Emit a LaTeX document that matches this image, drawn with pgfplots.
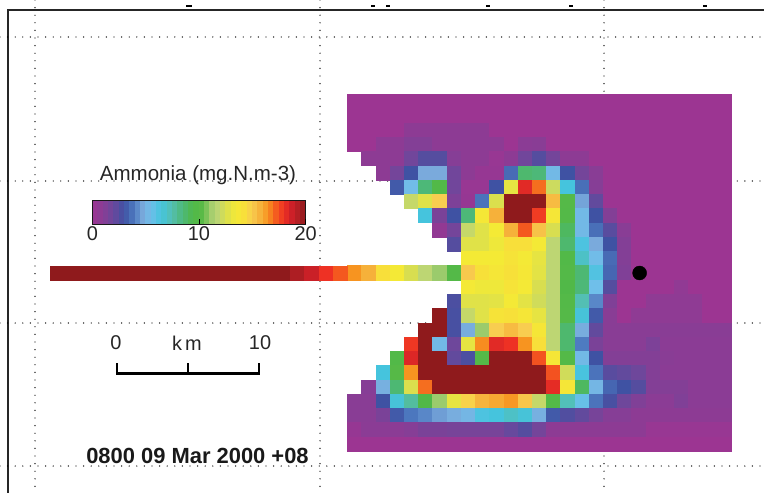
\documentclass[border=0pt]{standalone}
\usepackage{fontspec}
\setmainfont{Liberation Sans}
\usepackage{pgfplots}
\usepackage{pgfplotstable}
\pgfplotsset{compat=1.18}
\pgfplotsset{colormap={ammonia}{
rgb255(0pt)=(156,53,146) rgb255(10pt)=(137,61,149) rgb255(20pt)=(107,72,156) rgb255(30pt)=(63,82,163)
rgb255(40pt)=(78,123,193) rgb255(48pt)=(122,170,220) rgb255(55pt)=(111,191,234) rgb255(65pt)=(69,196,221)
rgb255(75pt)=(85,191,176) rgb255(85pt)=(77,184,120) rgb255(95pt)=(80,184,72) rgb255(105pt)=(92,187,71)
rgb255(110pt)=(155,203,108) rgb255(118pt)=(189,214,115) rgb255(125pt)=(216,222,80) rgb255(135pt)=(244,234,53)
rgb255(143pt)=(248,223,58) rgb255(150pt)=(248,205,80) rgb255(158pt)=(246,177,58) rgb255(165pt)=(247,148,32)
rgb255(173pt)=(244,88,31) rgb255(180pt)=(238,49,36) rgb255(187pt)=(207,32,40) rgb255(193pt)=(178,31,36)
rgb255(200pt)=(143,26,28)}}
\pgfplotstableread[header=false]{
0 0 0 0 0 0 0 0 0 0 0 0 0 0 0 0 0 0 0 0 0 0 0 0 0 0 0
0 0 0 0 0 0 0 0 0 0 0 0 0 0 0 0 0 0 0 0 0 0 0 0 0 0 0
0 0 0 0 .8 .8 .8 .8 .8 .8 0 0 0 0 0 0 0 0 0 0 0 0 0 0 0 0 0
0 0 .8 .8 1.2 1.2 .8 .8 .8 .8 .8 0 .9 1 0 0 0 0 0 0 0 0 0 0 0 0 0
nan .8 .8 .8 1.8 2.5 2.5 1.1 .8 .8 .2 .8 1.8 2.5 1.7 .8 .8 0 0 0 0 0 0 0 0 0 0
nan nan .8 1.7 3 4.8 4.8 1.8 .8 .3 .3 3.6 8.7 8.5 5.3 3 1.7 1 0 0 0 0 0 0 0 0 0
nan nan nan 3.2 5.4 8.5 9.7 1.8 .2 .2 3 13 18.3 17 12.2 6.5 3.7 1.1 0 0 0 0 0 0 0 0 0
nan nan nan nan 12 12.8 15 1.4 .3 3.8 12.6 20 20 20 15.5 9.9 4.7 2.2 0 0 0 0 0 0 0 0 0
nan nan nan nan nan 6.5 1.5 3 8.5 13.7 15.8 20 20 17.8 13.8 9.8 5.3 3 1.2 0 0 0 0 0 0 0 0
nan nan nan nan nan nan .5 1.7 12 12.8 13.5 15.8 17.3 15.3 12.5 9 5.3 3.7 2.4 1 0 0 0 0 0 0 0
nan nan nan nan nan nan nan 2.5 12.8 12.8 13.3 14.3 14.3 13.6 11.8 8.7 6.3 4.8 3 1.2 0 0 0 0 0 0 0
nan nan nan nan nan nan nan nan 13.5 13.5 13.5 14 13.6 13 11.8 9.7 7 5.4 3.6 1.2 0 0 0 0 0 0 0
16.5 15.8 14.3 13.6 12.5 11.8 11 9.8 15.1 14.2 13.8 14.2 13.7 12.9 11.8 9.8 8.6 6.2 3.5 1.3 0 0 0 0 0 0 0
nan nan nan nan nan nan nan nan 13.6 13.3 13.3 14 13.6 12.5 11.8 9.6 8.5 5.5 2.5 0 0 0 0 .6 0 0 0
nan nan nan nan nan nan nan 2.7 12.8 12.8 12.9 13.6 12.9 12.3 11.8 9.8 7.4 4.2 1.3 0 0 .7 .7 .7 .7 0 0
nan nan nan nan nan nan 20 2.8 12 12.8 14 14.2 13.8 13 11.8 9.9 6.6 3.2 1 0 .7 .7 .7 .7 .7 0 0
nan nan nan nan nan 20 20 2.8 4.9 11 15 15.5 15 13.8 11.8 8.7 4.9 2.2 1 1 1 1 1 1 1 1 1
nan nan nan nan 17.9 20 5.3 1.9 13 16.6 18.3 18 16.5 14.3 11.8 8.7 4 1.5 1 1 1 1.4 .9 .9 .9 .9 .9
nan nan nan 9.7 18.4 20 20 2.2 2.7 9.8 20 20 20 17.4 13.8 9.8 5.3 3 1.2 1.2 1.2 1.2 1 .9 .9 .9 .9
nan nan 6.5 10 16.5 20 20 20 20 20 20 20 20 20 17.4 12.3 6.4 3.8 2.4 2.2 1.9 1.2 .9 .9 .9 .9 .9
nan 1.1 5 8.6 12.6 17 20 20 20 20 20 20 20 20 18.2 13.8 9 5.2 3.5 3 2.5 1.2 1.2 1.2 .9 .9 .9
1 1 3 6.6 7.8 9.6 11 13 14.8 15.7 16 16.4 15.2 12 9.8 7.3 5.7 3.8 2.8 1.9 1.3 .9 .9 1.3 .9 .9 .9
1 1 1.5 3.2 3.9 4.2 4.6 4.9 5.2 6.3 6.5 7 6.6 5 3.2 2.6 2.2 1.6 1.1 1.1 .8 .8 .8 .8 .8 .8 .8
.3 .9 .9 .9 1.1 1.5 1.5 1.6 1.6 1.6 1.6 2.1 2.5 1.7 .8 .8 .8 .8 .8 .8 .8 .2 .2 .2 .2 .2 .2
0 0 0 0 0 0 0 0 0 0 0 0 0 0 0 0 0 0 0 0 0 0 0 0 0 0 0
}\mapdata
\begin{document}
\begin{tikzpicture}
\useasboundingbox (0,0) rectangle (764bp,493bp);
\begin{axis}[
  scale only axis, width=764bp, height=493bp, at={(0,0)}, anchor=south west,
  xmin=0, xmax=764, ymin=0, ymax=493, y dir=reverse,
  colormap name=ammonia, point meta min=0, point meta max=20,
  axis line style={draw=none}, tick style={draw=none},
  xtick={35,320,604}, ytick={37,181,323,466},
  xticklabels={}, yticklabels={},
  grid=major,
  grid style={black, line width=1.4pt, line cap=round, dash pattern=on 0pt off 7.6bp},
  axis on top,
  unbounded coords=jump,
  scatter/use mapped color={draw=mapped color, fill=mapped color},
]
\addplot[black!85, line width=2.2bp] coordinates {(8,493)(8,10)(764,10)};
\addplot[black, line width=1.1bp] coordinates {(186,6)(192,6)(nan,nan)(371,6)(375,6)(nan,nan)(386,6)(390,6)(nan,nan)(486,6)(490,6)(nan,nan)(569,6)(573,6)(nan,nan)(703,6)(707,6)};
\pgfplotsinvokeforeach{0,...,26}{
\addplot[scatter, only marks, mark=square*, mark size=7.05bp, line width=0.3bp, point meta=explicit]
  table[x expr={347.3+14.21*(#1+0.5)}, y expr={94.3+14.27*(\coordindex+0.5)+\thisrowno{#1}-\thisrowno{#1}}, meta index=#1] {\mapdata};
}
% plume tail, to the west of the grid
\addplot[scatter, only marks, mark=square*, mark size=7.05bp, line width=0.3bp, point meta=explicit]
 coordinates {(56.9,272.7)[20](71.1,272.7)[20](85.3,272.7)[20](99.5,272.7)[20](113.7,272.7)[20](127.9,272.7)[20](142.1,272.7)[20](156.3,272.7)[20](170.5,272.7)[20](184.7,272.7)[20](198.9,272.7)[20](213.1,272.7)[20](227.4,272.7)[20](241.6,272.7)[20](255.8,272.7)[20](270.0,272.7)[20](284.2,272.7)[20](297.4,272.7)[19.4](311.6,272.7)[18.8](325.8,272.7)[18](340.2,272.7)[17.3]};
\addplot[only marks, mark=*, black, mark size=7bp] coordinates {(639.6,273)};
% scale bar
\addplot[black, line width=2.2bp] coordinates {(117,363)(117,373.5)(259,373.5)(259,363)};
\addplot[black, line width=2.2bp] coordinates {(188,363)(188,373.5)};
\node[anchor=center, font=\fontsize{20.6}{20}\selectfont, text=black!85] at (axis cs:198,175) {Ammonia (mg.N.m-3)};
\node[anchor=center, font=\fontsize{20}{20}\selectfont, text=black!85] at (axis cs:116,343) {0};
\node[anchor=center, font=\fontsize{20}{20}\selectfont, text=black!85] at (axis cs:187,343) {k\hspace{3bp}m};
\node[anchor=center, font=\fontsize{20}{20}\selectfont, text=black!85] at (axis cs:260,343) {10};
\node[anchor=center, font=\fontsize{22}{22}\selectfont\bfseries, text=black!90] at (axis cs:197.5,456) {0800 09 Mar 2000 +08};
\end{axis}
\pgfplotscolorbardrawstandalone[colormap name=ammonia, point meta min=0, point meta max=20, colorbar horizontal, colorbar sampled, samples=41,
 colorbar style={at={(92.3bp,277bp)}, anchor=south west, scale only axis, width=213.4bp, height=24bp,
  xtick={0,10,20}, xticklabels={0,10,20}, tick align=inside, major tick length=5bp, tick style={black, line width=1bp},
  xtick pos=bottom,
  axis line style={black!90, line width=1.4bp},
  xticklabel style={font=\fontsize{20}{20}\selectfont, text=black!85, yshift=1.5bp},
  /pgf/number format/assume math mode=true}]
\end{tikzpicture}
\end{document}
